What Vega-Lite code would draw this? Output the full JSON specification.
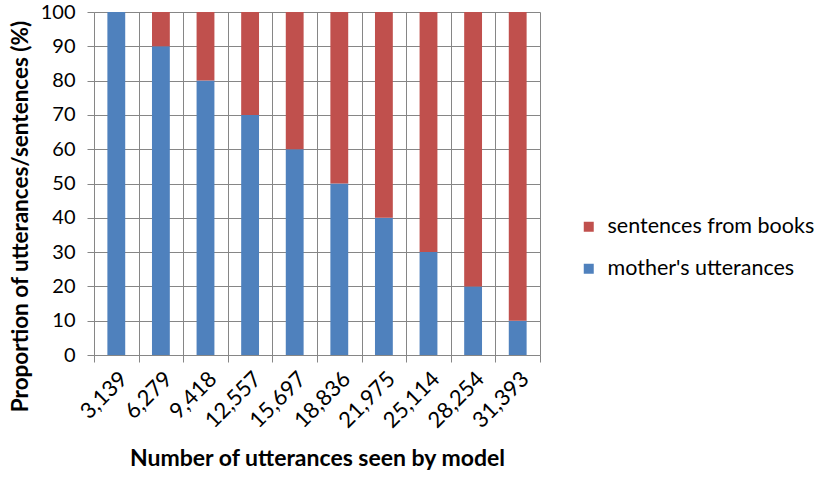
{
  "$schema": "https://vega.github.io/schema/vega-lite/v6.json",
  "width": 446,
  "height": 343,
  "autosize": "none",
  "padding": {"left": 94, "top": 12, "right": 277, "bottom": 124},
  "data": {
    "values": [
      {"n": "3,139", "series": "mother's utterances", "value": 100},
      {"n": "3,139", "series": "sentences from books", "value": 0},
      {"n": "6,279", "series": "mother's utterances", "value": 90},
      {"n": "6,279", "series": "sentences from books", "value": 10},
      {"n": "9,418", "series": "mother's utterances", "value": 80},
      {"n": "9,418", "series": "sentences from books", "value": 20},
      {"n": "12,557", "series": "mother's utterances", "value": 70},
      {"n": "12,557", "series": "sentences from books", "value": 30},
      {"n": "15,697", "series": "mother's utterances", "value": 60},
      {"n": "15,697", "series": "sentences from books", "value": 40},
      {"n": "18,836", "series": "mother's utterances", "value": 50},
      {"n": "18,836", "series": "sentences from books", "value": 50},
      {"n": "21,975", "series": "mother's utterances", "value": 40},
      {"n": "21,975", "series": "sentences from books", "value": 60},
      {"n": "25,114", "series": "mother's utterances", "value": 30},
      {"n": "25,114", "series": "sentences from books", "value": 70},
      {"n": "28,254", "series": "mother's utterances", "value": 20},
      {"n": "28,254", "series": "sentences from books", "value": 80},
      {"n": "31,393", "series": "mother's utterances", "value": 10},
      {"n": "31,393", "series": "sentences from books", "value": 90}
    ]
  },
  "mark": {"type": "bar", "width": {"band": 0.4}},
  "encoding": {
    "x": {
      "field": "n",
      "type": "ordinal",
      "sort": null,
      "title": "Number of utterances seen by model",
      "scale": {"padding": 0},
      "axis": {
        "labelAngle": -45,
        "labelFontSize": 22,
        "tickBand": "extent",
        "grid": true,
        "tickSize": 7,
        "labelPadding": 6,
        "titlePadding": 16
      }
    },
    "y": {
      "field": "value",
      "type": "quantitative",
      "stack": "zero",
      "title": "Proportion of utterances/sentences (%)",
      "scale": {"domain": [0, 100]},
      "axis": {
        "values": [0, 10, 20, 30, 40, 50, 60, 70, 80, 90, 100],
        "labelFontSize": 20,
        "tickSize": 7,
        "labelPadding": 12,
        "titleFontSize": 22.5,
        "titleX": -74,
        "titleY": 204,
        "titleAngle": -90,
        "titleAlign": "center",
        "titleBaseline": "middle"
      }
    },
    "color": {
      "field": "series",
      "type": "nominal",
      "scale": {
        "domain": ["sentences from books", "mother's utterances"],
        "range": ["#C0504D", "#4F81BD"]
      },
      "legend": {
        "title": null,
        "orient": "none",
        "legendX": 484,
        "legendY": 204,
        "padding": 0,
        "offset": 0,
        "symbolType": "square",
        "symbolSize": 100,
        "symbolStrokeWidth": 0,
        "labelFontSize": 21.5,
        "labelFont": "Lato",
        "labelColor": "#000000",
        "labelLimit": 300,
        "rowPadding": 19,
        "labelOffset": 8
      }
    },
    "order": {"field": "series", "sort": "ascending"}
  },
  "config": {
    "view": {"stroke": null},
    "axis": {
      "labelFont": "Lato",
      "labelColor": "#000000",
      "titleFont": "Lato",
      "titleFontSize": 23,
      "titleFontWeight": "bold",
      "titleColor": "#000000",
      "gridColor": "#868686",
      "gridOpacity": 1,
      "domainColor": "#868686",
      "tickColor": "#868686"
    }
  }
}
